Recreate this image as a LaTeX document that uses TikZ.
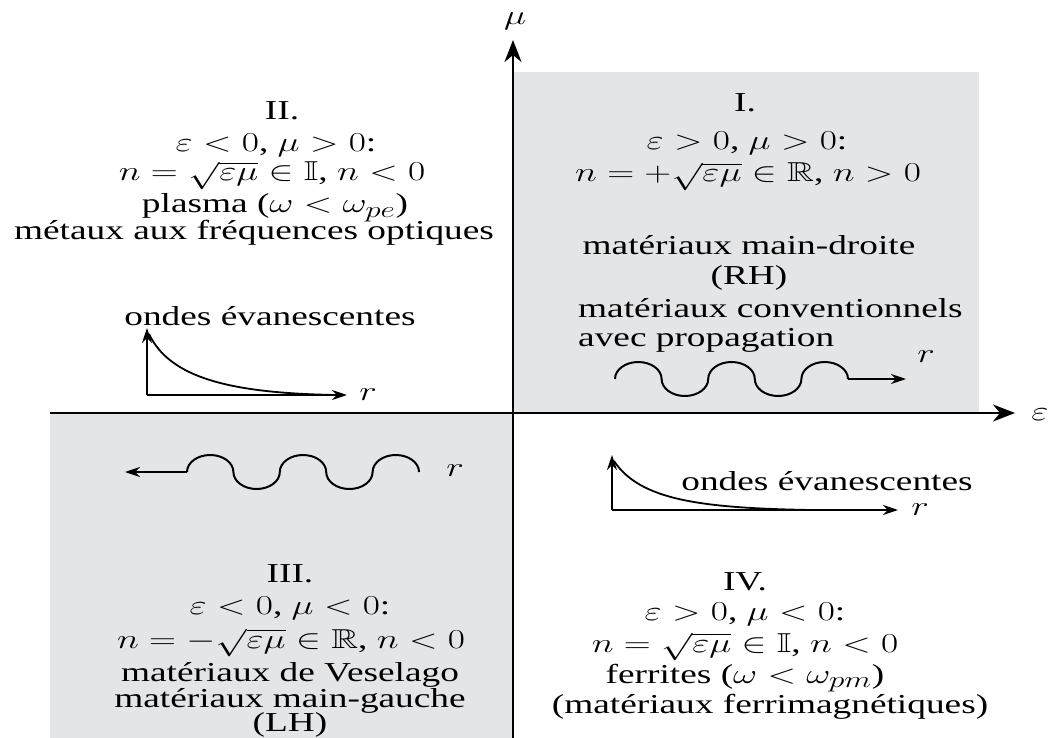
\documentclass[tikz,border=0pt]{standalone}
\usepackage{amssymb}
\usepackage{fontspec}
\setmainfont{Liberation Serif}
\usetikzlibrary{arrows.meta}
\definecolor{quadgray}{RGB}{228,229,231}
\newcommand{\qtext}[1]{\scalebox{1.5}[1.1]{#1}}
\begin{document}
\begin{tikzpicture}[x=1pt,y=-1pt,
  txt/.style={inner sep=0pt, anchor=base, font=\fontsize{24.88}{26}\selectfont},
  txtl/.style={txt, anchor=base west},
  mainaxis/.style={line width=2.6pt, -{Stealth[length=22pt,width=17pt,inset=7pt]}},
  smallaxis/.style={line width=1.8pt, -{Stealth[length=15pt,width=10pt,inset=5pt]}},
  curve/.style={line width=1.8pt},
  wave/.style={line width=2pt}]
\useasboundingbox (0,0) rectangle (1053,738);
% gray quadrants
\fill[quadgray] (513,72) rectangle (979,413);
\fill[quadgray] (50,413) rectangle (513,738);
% main axes
\coordinate (xs) at (50,413);
\coordinate (xe) at (1015,413);
\coordinate (ys) at (513,738);
\coordinate (ye) at (513,40);
\draw[mainaxis] (xs) -- (xe);
\draw[mainaxis] (ys) -- (ye);
\node[txt] (eps) at (1040,420) {\qtext{$\varepsilon$}};
\node[txt] (mu) at (515,25) {\qtext{$\mu$}};
% Quadrant II
\node[txt] (q2a) at (282,120) {\qtext{II.}};
\node[txt] (q2b) at (276,152) {\qtext{$\varepsilon<0$, $\mu>0$:}};
\node[txt] (q2c) at (272,181) {\qtext{$n=\sqrt{\varepsilon\mu}\in\mathbb{I}$, $n<0$}};
\node[txt] (q2d) at (275,213) {\qtext{plasma ($\omega<\omega_{pe}$)}};
\node[txt] (q2e) at (254,240) {\qtext{métaux aux fréquences optiques}};
\node[txt] (q2f) at (270,326) {\qtext{ondes évanescentes}};
\coordinate (g2o) at (147,395);
\coordinate (g2y) at (147,328);
\coordinate (g2x) at (347,395);
\draw[smallaxis] (g2o) -- (g2y);
\draw[smallaxis] (g2o) -- (g2x);
\draw[curve] (149,334) .. controls (170,378) and (230,393) .. (335,395);
\node[txt] (r2) at (368,400) {\qtext{$r$}};
% Quadrant I
\node[txt] (q1a) at (745,112) {\qtext{I.}};
\node[txt] (q1b) at (747,150) {\qtext{$\varepsilon>0$, $\mu>0$:}};
\node[txt] (q1c) at (748,182) {\qtext{$n=+\sqrt{\varepsilon\mu}\in\mathbb{R}$, $n>0$}};
\node[txt] (q1d) at (749,255) {\qtext{matériaux main-droite}};
\node[txt] (q1e) at (749,285) {\qtext{(RH)}};
\node[txtl] (q1f) at (578,318) {\qtext{matériaux conventionnels}};
\node[txtl] (q1g) at (578,346) {\qtext{avec propagation}};
\coordinate (w1s) at (615,379);
\coordinate (w1e) at (848,379);
\coordinate (w1t) at (906,379);
\draw[wave] (w1s) arc[start angle=180,end angle=360,x radius=23.3,y radius=17]
  arc[start angle=180,end angle=0,x radius=23.3,y radius=17]
  arc[start angle=180,end angle=360,x radius=23.3,y radius=17]
  arc[start angle=180,end angle=0,x radius=23.3,y radius=17]
  arc[start angle=180,end angle=360,x radius=23.3,y radius=17];
\draw[smallaxis] (w1e) -- (w1t);
\node[txt] (r1) at (926,362) {\qtext{$r$}};
% Quadrant III
\coordinate (w3s) at (187,472);
\coordinate (w3t) at (125,472);
\draw[wave] (w3s) arc[start angle=180,end angle=360,x radius=23.2,y radius=17]
  arc[start angle=180,end angle=0,x radius=23.2,y radius=17]
  arc[start angle=180,end angle=360,x radius=23.2,y radius=17]
  arc[start angle=180,end angle=0,x radius=23.2,y radius=17]
  arc[start angle=180,end angle=360,x radius=23.2,y radius=17];
\draw[smallaxis] (w3s) -- (w3t);
\node[txt] (r3) at (455,476) {\qtext{$r$}};
\node[txt] (q3a) at (290,582) {\qtext{III.}};
\node[txt] (q3b) at (290,614) {\qtext{$\varepsilon<0$, $\mu<0$:}};
\node[txt] (q3c) at (291,648) {\qtext{$n=-\sqrt{\varepsilon\mu}\in\mathbb{R}$, $n<0$}};
\node[txt] (q3d) at (290,681) {\qtext{matériaux de Veselago}};
\node[txt] (q3e) at (290,707) {\qtext{matériaux main-gauche}};
\node[txt] (q3f) at (290,731) {\qtext{(LH)}};
% Quadrant IV
\coordinate (g4o) at (612,510);
\coordinate (g4y) at (612,455);
\coordinate (g4x) at (898,510);
\draw[smallaxis] (g4o) -- (g4y);
\draw[smallaxis] (g4o) -- (g4x);
\draw[curve] (614,461) .. controls (640,500) and (700,508) .. (810,510);
\node[txt] (r4) at (920,515) {\qtext{$r$}};
\node[txt] (q4f) at (827,490) {\qtext{ondes évanescentes}};
\node[txt] (q4a) at (745,590) {\qtext{IV.}};
\node[txt] (q4b) at (745,620) {\qtext{$\varepsilon>0$, $\mu<0$:}};
\node[txt] (q4c) at (745,652) {\qtext{$n=\sqrt{\varepsilon\mu}\in\mathbb{I}$, $n<0$}};
\node[txt] (q4d) at (745,683) {\qtext{ferrites ($\omega<\omega_{pm}$)}};
\node[txt] (q4e) at (770,713) {\qtext{(matériaux ferrimagnétiques)}};
\end{tikzpicture}
\end{document}
